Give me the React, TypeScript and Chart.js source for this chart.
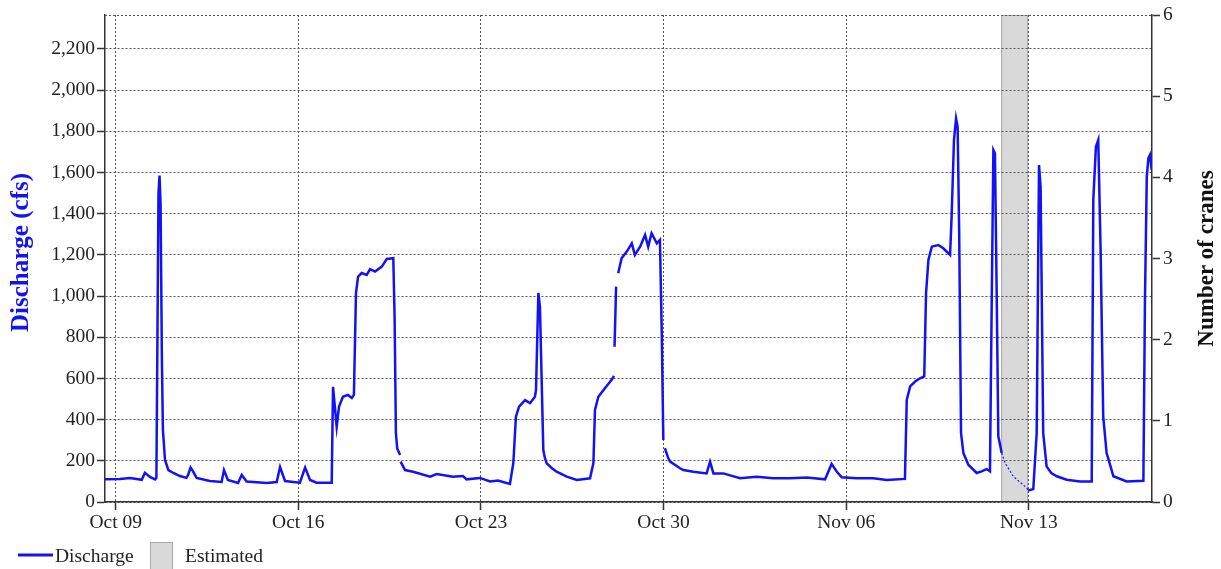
import React, { useEffect, useRef } from 'react';
import { Chart, registerables } from 'chart.js';

Chart.register(...registerables);

// ---- data (days since Oct 09 00:00) ----
const xTickDays = [0, 7, 14, 21, 28, 35];
const xTickLabels = ['Oct 09', 'Oct 16', 'Oct 23', 'Oct 30', 'Nov 06', 'Nov 13'];
const dischargeTicks = [0, 200, 400, 600, 800, 1000, 1200, 1400, 1600, 1800, 2000, 2200];
const craneTicks = [0, 1, 2, 3, 4, 5, 6];
const estimatedBand = [33.94, 34.97];

const dischargeDays = [
  -0.41, 0.16, 0.55, 1.0, 1.12, 1.31, 1.51, 1.56, 1.64, 1.68, 1.72, 1.77, 1.81, 1.89, 2.02, 2.21, 2.46, 2.71, 2.77, 2.87, 2.96, 3.1,
  3.61, 4.06, 4.15, 4.3, 4.69, 4.83, 5.02, 5.79, 6.17, 6.3, 6.49, 7.06, 7.26, 7.45, 7.7, 8.28, 8.33, 8.47, 8.56, 8.71,
  8.9, 9.05, 9.13, 9.21, 9.29, 9.43, 9.62, 9.75, 9.94, 10.2, 10.39, 10.64, 10.69, 10.74, 10.79, 10.9, 10.91, 10.92, 11.09, 11.4, 12.05,
  12.3, 12.93, 13.31, 13.45, 13.96, 14.35, 14.65, 15.11, 15.24, 15.34, 15.46, 15.69, 15.88, 16.07, 16.11, 16.2, 16.26, 16.39, 16.45, 16.52, 16.71, 16.9,
  17.29, 17.67, 18.18, 18.31, 18.37, 18.5, 18.75, 19.01, 19.1, 19.11, 19.12, 19.18, 19.22, 19.26, 19.39, 19.59, 19.78, 19.9, 20.1, 20.29,
  20.41, 20.54, 20.74, 20.86, 20.93, 20.99, 21.02, 21.05, 21.18, 21.25, 21.63, 21.76, 22.14, 22.65, 22.78, 22.91, 23.29, 23.93, 24.57, 25.21,
  25.85, 26.49, 27.19, 27.44, 27.64, 27.83, 28.4, 29.04, 29.55, 30.25, 30.32, 30.45, 30.64, 30.83, 30.99, 31.06, 31.15, 31.28, 31.53, 31.72,
  31.98, 32.04, 32.13, 32.21, 32.27, 32.33, 32.4, 32.49, 32.68, 33.0, 33.19, 33.38, 33.51, 33.55, 33.64, 33.7, 33.77, 33.83, 33.96, 33.97,
  34.97, 35.17, 35.3, 35.39, 35.45, 35.55, 35.68, 35.86, 36.07, 36.45, 36.96, 37.41, 37.47, 37.57, 37.66, 37.75, 37.85, 37.98, 38.04, 38.24, 38.75,
  39.39, 39.45, 39.52, 39.58, 39.64, 39.71,
];
const dischargeCfs = [
  110, 112, 117, 108, 142, 122, 110, 118, 1500, 1585, 1450, 700, 350, 204, 155, 141, 126, 117, 130, 167, 150, 117,
  102, 97, 155, 107, 92, 131, 99, 92, 97, 170, 102, 94, 167, 107, 94, 94, 559, 366, 463, 511,
  520, 505, 520, 1015, 1094, 1112, 1103, 1131, 1119, 1143, 1180, 1184, 900, 335, 260, 228, null, 196, 155, 147, 123,
  136, 123, 126, 110, 117, 100, 104, 88, 188, 414, 463, 495, 480, 511, 544, 1015, 949, 252, 214, 188, 165, 147,
  123, 107, 115, 189, 447, 511, 552, 593, 612, null, 754, 1046, null, 1111, 1184, 1216, 1256, 1200, 1240, 1297,
  1240, 1305, 1256, 1273, 820, 301, null, 261, 212, 196, 164, 155, 147, 139, 196, 139, 139, 115, 123, 115,
  115, 119, 110, 185, 147, 120, 115, 115, 107, 112, 496, 561, 585, 601, 610, 1014, 1176, 1240, 1248, 1232,
  1200, 1386, 1758, 1863, 1822, 1305, 335, 238, 181, 141, 149, 160, 149, 658, 1709, 1693, 981, 319, 238, null,
  55, 63, 335, 1636, 1531, 335, 173, 140, 125, 108, 100, 100, 1467, 1725, 1758, 1224, 416, 238, 213, 125, 100,
  103, 981, 1580, 1669, 1685, 1612,
];
const estimatedDays = [33.96, 34.09, 34.4, 34.92, 34.97];
const estimatedCfs = [238, 189, 125, 68, 55];

const SERIF = "'Liberation Serif', 'Times New Roman', serif";
const BLUE = 'rgb(18,18,245)';
const TEXT = '#222';
const GRID = '#555';

const customDraw = {
  id: 'customDraw',
  beforeDraw(chart: any) {
    const { ctx, chartArea, scales } = chart;
    const x = scales.x;
    const x1 = x.getPixelForValue(estimatedBand[0]);
    const x2 = x.getPixelForValue(estimatedBand[1]);
    ctx.save();
    ctx.fillStyle = '#d9d9d9';
    ctx.fillRect(x1, chartArea.top, x2 - x1, chartArea.bottom - chartArea.top);
    ctx.strokeStyle = '#aaa';
    ctx.lineWidth = 1;
    ctx.strokeRect(x1 + 0.5, chartArea.top + 0.5, x2 - x1 - 1, chartArea.bottom - chartArea.top - 1);
    ctx.restore();
  },
  beforeDatasetsDraw(chart: any) {
    const { ctx, chartArea } = chart;
    ctx.save();
    ctx.strokeStyle = GRID;
    ctx.lineWidth = 1;
    ctx.setLineDash([2, 2]);
    ctx.beginPath();
    ctx.moveTo(chartArea.left, chartArea.top + 0.5);
    ctx.lineTo(chartArea.right, chartArea.top + 0.5);
    ctx.stroke();
    ctx.restore();
  },
  afterDraw(chart: any) {
    const { ctx, chartArea } = chart;
    const cy = (chartArea.top + chartArea.bottom) / 2;
    ctx.save();
    ctx.font = `bold 25px ${SERIF}`;
    ctx.textAlign = 'center';
    ctx.textBaseline = 'middle';
    ctx.fillStyle = BLUE;
    ctx.translate(22, cy - 6);
    ctx.rotate(-Math.PI / 2);
    ctx.fillText('Discharge (cfs)', 0, 0);
    ctx.restore();

    ctx.save();
    ctx.font = `bold 23px ${SERIF}`;
    ctx.textAlign = 'center';
    ctx.textBaseline = 'middle';
    ctx.fillStyle = '#111';
    ctx.translate(1207, cy);
    ctx.rotate(-Math.PI / 2);
    ctx.fillText('Number of cranes', 0, 0);
    ctx.restore();

    // legend
    ctx.save();
    ctx.strokeStyle = BLUE;
    ctx.lineWidth = 3;
    ctx.beginPath();
    ctx.moveTo(18, 555);
    ctx.lineTo(53, 555);
    ctx.stroke();
    ctx.font = `19.5px ${SERIF}`;
    ctx.fillStyle = TEXT;
    ctx.textBaseline = 'alphabetic';
    ctx.fillText('Discharge', 55, 562);
    ctx.fillStyle = '#d9d9d9';
    ctx.fillRect(150, 542, 23, 30);
    ctx.strokeStyle = '#aaa';
    ctx.lineWidth = 1;
    ctx.strokeRect(150.5, 542.5, 22, 30);
    ctx.fillStyle = TEXT;
    ctx.fillText('Estimated', 185, 562);
    ctx.restore();
  },
};

export default function App() {
  const ref = useRef<HTMLCanvasElement | null>(null);

  useEffect(() => {
    if (!ref.current) return;
    const main = dischargeDays.map((d, i) => ({ x: d, y: dischargeCfs[i] }));
    const est = estimatedDays.map((d, i) => ({ x: d, y: estimatedCfs[i] }));
    const tickFont = { family: SERIF, size: 19.5 };
    const chart = new Chart(ref.current, {
      type: 'line',
      data: {
        datasets: [
          {
            label: 'Discharge',
            data: main as any,
            borderColor: BLUE,
            borderWidth: 2.5,
            pointRadius: 0,
            tension: 0,
            spanGaps: false,
            yAxisID: 'y',
          },
          {
            label: 'Estimated',
            data: est as any,
            borderColor: BLUE,
            borderWidth: 1.2,
            borderDash: [2, 2],
            pointRadius: 0,
            tension: 0,
            yAxisID: 'y',
          },
        ],
      },
      options: {
        responsive: false,
        animation: false,
        layout: { padding: { top: 15, left: 0, right: 0, bottom: 0 } },
        plugins: { legend: { display: false }, tooltip: { enabled: false } },
        scales: {
          x: {
            type: 'linear',
            min: -0.41,
            max: 39.72,
            afterBuildTicks: (s: any) => {
              s.ticks = xTickDays.map((v) => ({ value: v }));
            },
            afterFit: (s: any) => {
              s.height = 67;
            },
            ticks: {
              autoSkip: false,
              maxRotation: 0,
              padding: 1,
              color: TEXT,
              font: tickFont,
              callback: (v: any) => {
                const i = xTickDays.indexOf(Number(v));
                return i >= 0 ? xTickLabels[i] : '';
              },
            },
            grid: { color: GRID, lineWidth: 1, tickLength: 8, tickColor: '#333', tickWidth: 1.5 },
            border: { display: true, color: '#333', width: 1.5, dash: [2, 2] },
          },
          y: {
            type: 'linear',
            position: 'left',
            min: 0,
            max: 2365,
            afterBuildTicks: (s: any) => {
              s.ticks = dischargeTicks.map((v) => ({ value: v }));
            },
            afterFit: (s: any) => {
              s.width = 105;
            },
            ticks: {
              padding: 2,
              color: TEXT,
              font: tickFont,
              callback: (v: any) => Number(v).toLocaleString('en-US'),
            },
            grid: { color: GRID, lineWidth: 1, tickLength: 8, tickColor: '#333', tickWidth: 1.5 },
            border: { display: true, color: '#333', width: 1.5, dash: [2, 2] },
          },
          y1: {
            type: 'linear',
            position: 'right',
            min: 0,
            max: 6,
            afterBuildTicks: (s: any) => {
              s.ticks = craneTicks.map((v) => ({ value: v }));
            },
            afterFit: (s: any) => {
              s.width = 69;
            },
            ticks: { padding: 3, color: TEXT, font: tickFont },
            grid: { drawOnChartArea: false, tickLength: 8, tickColor: '#333', tickWidth: 1.5 },
            border: { display: true, color: '#333', width: 1.5 },
          },
        },
      },
      plugins: [customDraw],
    });
    return () => chart.destroy();
  }, []);

  return (
    <div style={{ position: 'absolute', left: 0, top: 0, width: 1221, height: 569, background: '#fff' }}>
      <canvas ref={ref} width={1221} height={569} style={{ display: 'block', width: 1221, height: 569 }} />
    </div>
  );
}
